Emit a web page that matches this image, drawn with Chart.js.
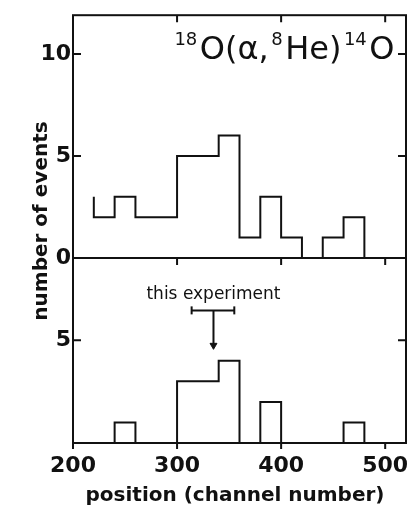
<!DOCTYPE html>
<html>
<head>
<meta charset="utf-8">
<script src="https://cdn.jsdelivr.net/npm/chart.js@4"></script>
<style>
  html, body { margin: 0; padding: 0; background: #fff; }
  #wrap { width: 412px; height: 510px; position: relative; }
</style>
</head>
<body>
<div id="wrap"><canvas id="histChart"></canvas></div>
<script>
// histogram bins (channel number, left edge) and counts per bin
const binLefts = [220, 240, 260, 280, 300, 320, 340, 360, 380, 400, 420, 440, 460];
const binWidth = 20;
const topCounts = [2, 3, 2, 2, 5, 5, 6, 1, 3, 1, 0, 1, 2];
const bottomCounts = [0, 1, 0, 0, 3, 3, 4, 0, 2, 0, 0, 0, 1];
const topLeadIn = 3;          // edge of the cut-off bin left of 220
const xTicks = [200, 300, 400, 500];
const yTicksTop = [0, 5, 10];
const yTicksBottom = [5];
// "this experiment" marker: range and centroid in channels
const experimentRange = [314, 355];
const experimentCentroid = 335;

const INK = '#111';
const FONT = '"DejaVu Sans", sans-serif';

const stepPoints = (counts, lead) => {
    const pts = [];
    if (lead !== null) pts.push({ x: binLefts[0], y: lead });
    binLefts.forEach((x, i) => pts.push({ x: x, y: counts[i] }));
    pts.push({ x: binLefts[binLefts.length - 1] + binWidth, y: counts[counts.length - 1] });
    pts.push({ x: binLefts[binLefts.length - 1] + binWidth, y: 0 });
    return pts;
};

// frame, inner ticks, annotations
const framePlugin = {
    id: 'frame',
    afterDatasetsDraw(chart) {
        const { ctx, chartArea: a, scales } = chart;
        const x = scales.x, yt = scales.yTop, yb = scales.yBot;
        const mid = yt.getPixelForValue(0);
        ctx.save();
        ctx.strokeStyle = INK;
        ctx.lineWidth = 2;
        ctx.strokeRect(a.left, a.top, a.right - a.left, a.bottom - a.top);
        ctx.beginPath();
        ctx.moveTo(a.left, mid); ctx.lineTo(a.right, mid);
        const tl = 8;
        yTicksTop.filter(v => v > 0).forEach(v => {
            const py = yt.getPixelForValue(v);
            ctx.moveTo(a.left, py); ctx.lineTo(a.left + tl, py);
            ctx.moveTo(a.right, py); ctx.lineTo(a.right - tl, py);
        });
        yTicksBottom.forEach(v => {
            const py = yb.getPixelForValue(v);
            ctx.moveTo(a.left, py); ctx.lineTo(a.left + tl, py);
            ctx.moveTo(a.right, py); ctx.lineTo(a.right - tl, py);
        });
        xTicks.forEach(v => {
            const px = x.getPixelForValue(v);
            ctx.moveTo(px, a.bottom); ctx.lineTo(px, a.bottom + 6);
            if (v > 200) {
                ctx.moveTo(px, a.top); ctx.lineTo(px, a.top + 7);
                ctx.moveTo(px, mid); ctx.lineTo(px, mid + 7);
            }
        });
        ctx.stroke();

        // axis titles
        ctx.fillStyle = INK;
        ctx.font = 'bold 20px ' + FONT;
        ctx.textAlign = 'center';
        ctx.textBaseline = 'alphabetic';
        ctx.fillText('position (channel number)', 235, 501);
        ctx.save();
        ctx.translate(47, 221);
        ctx.rotate(-Math.PI / 2);
        ctx.fillText('number of events', 0, 0);
        ctx.restore();

        // marker label
        ctx.font = '17px ' + FONT;
        ctx.fillText('this experiment', x.getPixelForValue(experimentCentroid), 299);

        // reaction label, right aligned inside the top panel
        const parts = [
            ['18', 18, -14], ['O(α,', 32, 0], ['8', 18, -14], ['He)', 32, 0],
            ['14', 18, -14], ['O', 32, 0]
        ];
        const gap = 2.5;
        ctx.textAlign = 'left';
        let total = 0;
        parts.forEach(p => { ctx.font = p[1] + 'px ' + FONT; total += ctx.measureText(p[0]).width + gap; });
        let cx = a.right - 9 - total;
        const base = a.top + 44;
        parts.forEach(p => {
            ctx.font = p[1] + 'px ' + FONT;
            ctx.fillText(p[0], cx, base + p[2]);
            cx += ctx.measureText(p[0]).width + gap;
        });
        ctx.restore();
    }
};

const initHistChart = () => {
    const ctx = document.getElementById('histChart').getContext('2d');
    const lineStyle = {
        type: 'line', stepped: 'before', borderColor: INK, borderWidth: 2,
        pointRadius: 0, fill: false, tension: 0
    };
    const tickFont = { family: FONT, size: 22, weight: 'bold' };
    return new Chart(ctx, {
        type: 'line',
        data: {
            datasets: [
                { ...lineStyle, label: 'top', yAxisID: 'yTop', data: stepPoints(topCounts, topLeadIn) },
                { ...lineStyle, label: 'bottom', yAxisID: 'yBot', data: stepPoints(bottomCounts, null) },
                {
                    label: 'range', yAxisID: 'yBot', borderColor: INK, borderWidth: 2,
                    data: [{ x: experimentRange[0], y: 6.45 }, { x: experimentRange[1], y: 6.45 }],
                    pointStyle: 'line', rotation: 90, pointRadius: 4,
                    pointBorderColor: INK, pointBorderWidth: 2
                },
                {
                    label: 'arrow', yAxisID: 'yBot', borderColor: INK, borderWidth: 2,
                    data: [{ x: experimentCentroid, y: 6.45 }, { x: experimentCentroid, y: 4.75 }],
                    pointStyle: 'triangle', rotation: 180, pointRadius: [0, 4],
                    pointBackgroundColor: INK, pointBorderColor: INK, pointBorderWidth: 1
                }
            ]
        },
        options: {
            responsive: false,
            animation: false,
            layout: { padding: { top: 14, right: 4, left: 0, bottom: 0 } },
            plugins: { legend: { display: false }, tooltip: { enabled: false } },
            scales: {
                x: {
                    type: 'linear', position: 'bottom', min: 200, max: 520,
                    afterBuildTicks: s => { s.ticks = xTicks.map(v => ({ value: v })); },
                    grid: { display: false, drawTicks: false },
                    border: { display: false },
                    ticks: { color: INK, font: tickFont, padding: 10, maxRotation: 0 },
                    afterFit: s => { s.height = 67; s.paddingLeft = 0; s.paddingRight = 0; }
                },
                // stacked panels: the first listed ends up at the bottom
                yBot: {
                    type: 'linear', position: 'left', stack: 'panels', stackWeight: 186,
                    min: 0, max: 9,
                    afterBuildTicks: s => { s.ticks = yTicksBottom.map(v => ({ value: v })); },
                    grid: { display: false, drawTicks: false },
                    border: { display: false },
                    ticks: { color: INK, font: tickFont, padding: 2 },
                    afterFit: s => { s.width = 73; }
                },
                yTop: {
                    type: 'linear', position: 'left', stack: 'panels', stackWeight: 244,
                    min: 0, max: 11.9,
                    afterBuildTicks: s => { s.ticks = yTicksTop.map(v => ({ value: v })); },
                    grid: { display: false, drawTicks: false },
                    border: { display: false },
                    ticks: { color: INK, font: tickFont, padding: 2 },
                    afterFit: s => { s.width = 73; }
                }
            }
        },
        plugins: [framePlugin]
    });
};

document.addEventListener('DOMContentLoaded', () => {
    const c = document.getElementById('histChart');
    c.width = 412; c.height = 510;
    initHistChart();
});
</script>
</body>
</html>
